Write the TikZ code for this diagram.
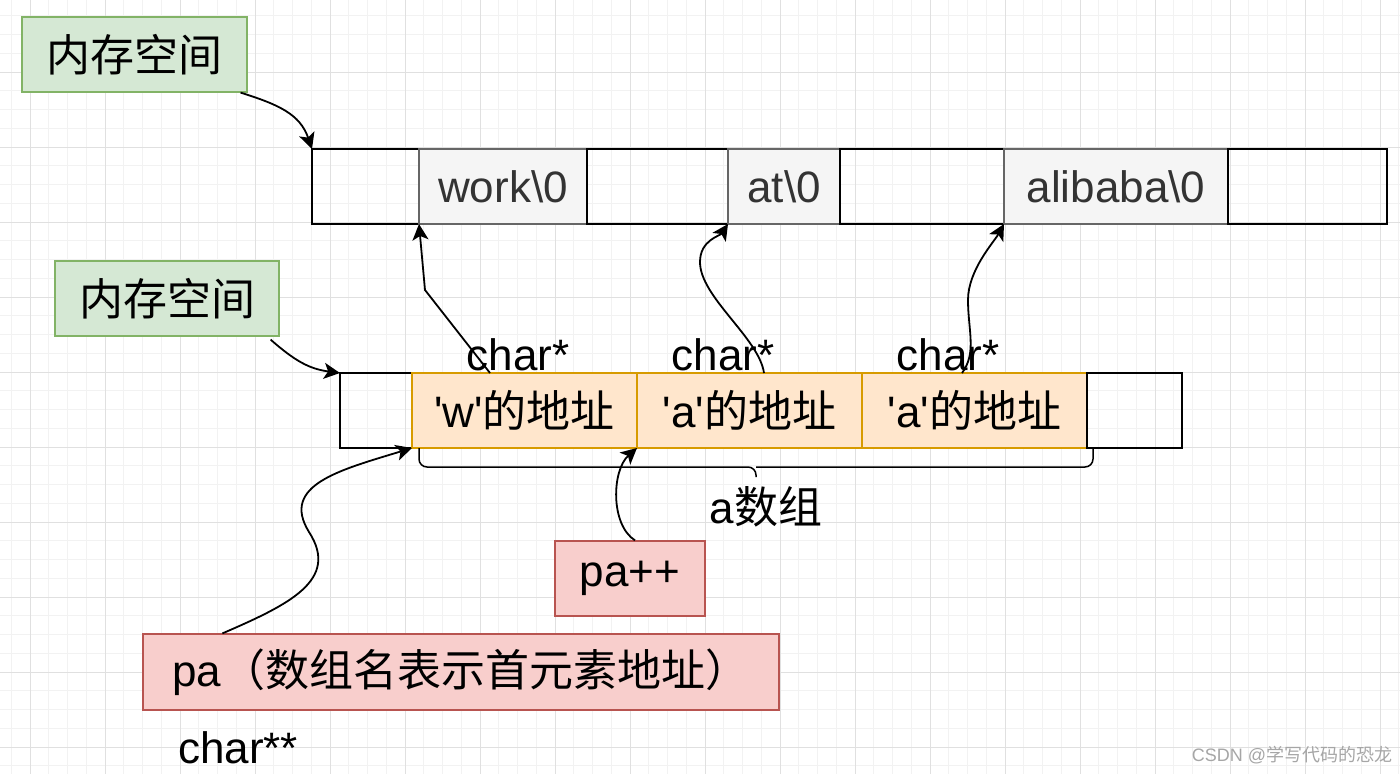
\documentclass[tikz,border=0pt]{standalone}
\usepackage{fontspec}
\setmainfont{Liberation Sans}[Ligatures=TeXOff]
\newfontfamily\cjk{Noto Sans CJK SC}
\usepackage{tikz}
\usetikzlibrary{arrows.meta,positioning,calc}
\definecolor{gridminor}{HTML}{F2F2F2}
\definecolor{gridmajor}{HTML}{E0E0E0}
\definecolor{memgreen}{HTML}{D5E8D4}
\definecolor{memgreenline}{HTML}{82B366}
\definecolor{strfill}{HTML}{F5F5F5}
\definecolor{strline}{HTML}{666666}
\definecolor{strtext}{HTML}{333333}
\definecolor{addrfill}{HTML}{FFE6CC}
\definecolor{addrline}{HTML}{D79B00}
\definecolor{ptrfill}{HTML}{F8CECC}
\definecolor{ptrline}{HTML}{B85450}

\begin{document}
\begin{tikzpicture}[
  x=1pt,y=-1pt,node distance=0pt,
  font=\fontsize{44}{50}\selectfont,
  cell/.style={draw,line width=1.6pt,minimum height=75,inner sep=0,outer sep=0},
  strcell/.style={cell,draw=strline,fill=strfill,text=strtext,line width=1.2pt},
  addrcell/.style={cell,draw=addrline,fill=addrfill,line width=1.4pt},
  membox/.style={draw=memgreenline,fill=memgreen,line width=1.2pt,minimum width=225,minimum height=75,inner sep=0},
  ptrbox/.style={draw=ptrline,fill=ptrfill,line width=1.2pt,minimum height=75,inner sep=0},
  ar/.style={-{Stealth[length=16pt,width=16pt,inset=4pt]},line width=1.8pt},
  brc/.style={line width=1.5pt,rounded corners=8pt}
]
\useasboundingbox (0,0) rectangle (1400,774);
% background grid
\fill[white] (0,0) rectangle (1400,774);
\foreach \gx in {11.25,30,...,1400} \draw[gridminor,line width=1pt] (\gx,0) -- (\gx,774);
\foreach \gy in {15.75,34.5,...,774} \draw[gridminor,line width=1pt] (0,\gy) -- (1400,\gy);
\foreach \gx in {30,105,...,1400} \draw[gridmajor,line width=1pt] (\gx,0) -- (\gx,774);
\foreach \gy in {72,147,...,774} \draw[gridmajor,line width=1pt] (0,\gy) -- (1400,\gy);

\node[membox] (mem1) at (134.5,54.5) {\cjk 内存空间};
\node[membox,minimum width=224] (mem2) at (167,298.5) {\cjk 内存空间};

% strings in memory
\node[cell,minimum width=107,anchor=north west] (t0) at (312,149) {};
\node[strcell,minimum width=168,right=of t0] (t1) {work\textbackslash0};
\node[cell,minimum width=141,right=of t1] (t2) {};
\node[strcell,minimum width=112,right=of t2] (t3) {at\textbackslash0};
\node[cell,minimum width=164,right=of t3] (t4) {};
\node[strcell,minimum width=224,right=of t4] (t5) {alibaba\textbackslash0};
\node[cell,minimum width=159,right=of t5] (t6) {};

% array a
\node[cell,minimum width=72,anchor=north west] (b0) at (340,373) {};
\node[addrcell,minimum width=225,right=of b0] (b1) {'w'{\cjk 的地址}};
\node[addrcell,minimum width=225,right=of b1] (b2) {'a'{\cjk 的地址}};
\node[addrcell,minimum width=225,right=of b2] (b3) {'a'{\cjk 的地址}};
\node[cell,minimum width=95,right=of b3] (b4) {};

\node[anchor=base] (cs1) at (518,370) {char*};
\node[anchor=base] (cs2) at (723,370) {char*};
\node[anchor=base] (cs3) at (948,370) {char*};

\coordinate (brL) at ($(b1.south west)+(7,0)$);
\coordinate (brR) at ($(b3.south east)+(6,0)$);
\coordinate (brM) at ($(brL)!0.5!(brR)+(0,19)$);
\draw[brc] (brL) -- ++(0,19) -- (brM) -- ++(0,10);
\draw[brc] (brR) -- ++(0,19) -- (brM);
\node (arrname) at (766,507) {a{\cjk 数组}};

\node[ptrbox,minimum width=150] (pp) at (630,578.5) {pa++};
\node[ptrbox,minimum width=636,minimum height=76] (pa) at (461,672) {pa{\cjk （数组名表示首元素地址）}};
\node (pstar) at (238,748) {char**};
\node[text=gray!70,font=\fontsize{18}{20}\selectfont] (wm) at (1292,755) {CSDN @{\cjk 学写代码的恐龙}};

\draw[ar] ($(mem1.south east)+(-7,0)$) .. controls +(38,12) and +(-12,-35) .. (t0.north west);
\draw[ar] ($(mem2.south east)+(-9,3)$) .. controls +(25,22) and +(-30,-4) .. (b0.north west);
\draw[ar] ($(b1.north west)+(78,0)$) -- (425,290) -- (t1.south west);
\draw[ar] ($(b2.north west)+(127,0)$) .. controls +(-5,-35) and +(0,35) .. (700,262) .. controls +(0,-22) and +(-8,12) .. (t3.south west);
\draw[ar] ($(b3.north west)+(100,0)$) .. controls +(15,-20) and +(0,30) .. (968,300) .. controls +(0,-30) and +(-10,18) .. (t5.south west);
\draw[ar] ($(pa.north west)+(80,0)$) .. controls +(67,-29) and +(31,48) .. (309,532) .. controls +(-29,-47) and +(-72,22) .. (b1.south west);
\draw[ar] ($(pp.north)+(5,0)$) .. controls +(-25,-16) and +(-25,22) .. (b2.south west);
\end{tikzpicture}
\end{document}
